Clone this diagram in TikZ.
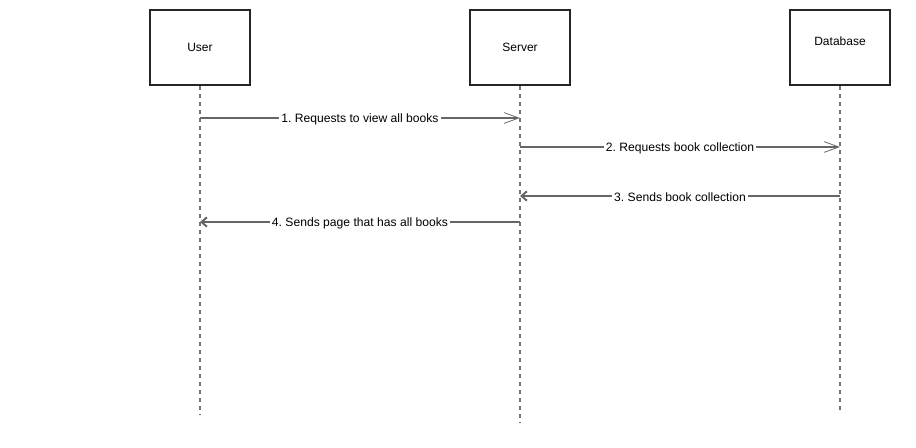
\documentclass[tikz,border=0pt]{standalone}
\usepackage{fontspec}
\setmainfont{Liberation Sans}
\usetikzlibrary{arrows.meta}
\begin{document}
\frenchspacing
\begin{tikzpicture}[x=0.75pt,y=-0.75pt,
  actor/.style={draw=black!85,line width=1.5pt,minimum width=75pt,minimum height=56.25pt,inner sep=0pt,font=\fontsize{9pt}{11pt}\selectfont},
  life/.style={draw=black!55,line width=1pt,dash pattern=on 3pt off 3pt},
  msg/.style={draw=black!60,line width=1pt},
  lbl/.style={fill=white,inner sep=1.5pt,yshift=-1.2pt,font=\fontsize{9.1pt}{11pt}\selectfont,text=black},
  openv/.style={-{Straight Barb[length=11pt,width=8pt,line width=0.6pt]}},
  opens/.style={-{Straight Barb[length=4pt,width=7pt,line width=1.5pt]}}]
\useasboundingbox (0,0) rectangle (916,448);
\node[actor] (user) at (200,47.5) {User};
\node[actor] (server) at (520,47.5) {Server};
\node[actor,text depth=9pt] (db) at (840,47.5) {Database};
\coordinate (ue) at (200,415);
\coordinate (se) at (520,423);
\coordinate (de) at (840,413);
\draw[life] (user.south) -- (ue);
\draw[life] (server.south) -- (se);
\draw[life] (db.south) -- (de);
\coordinate (u1) at (200,118); \coordinate (s1) at (520,118);
\coordinate (s2) at (520,147); \coordinate (d2) at (840,147);
\coordinate (d3) at (840,196); \coordinate (s3) at (520,196);
\coordinate (s4) at (520,222); \coordinate (u4) at (200,222);
\draw[msg,openv] (u1) -- node[lbl] {1. Requests to view all books} (s1);
\draw[msg,openv] (s2) -- node[lbl] {2. Requests book collection} (d2);
\draw[msg,opens] (d3) -- node[lbl] {3. Sends book collection} (s3);
\draw[msg,opens] (s4) -- node[lbl] {4. Sends page that has all books} (u4);
\end{tikzpicture}
\end{document}
